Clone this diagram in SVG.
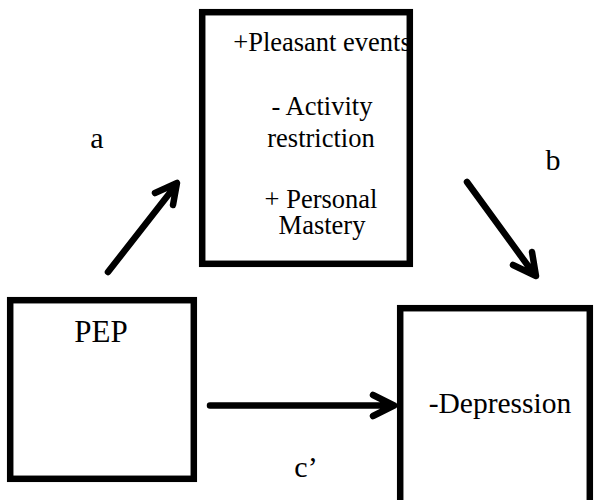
<svg xmlns="http://www.w3.org/2000/svg" width="598" height="500" viewBox="0 0 598 500">
<style>
.box{fill:#fff;stroke:#000;stroke-width:6.5}
text{font-family:"Liberation Serif","Times New Roman","DejaVu Serif",serif;fill:#000;text-anchor:middle}
.c{fill:none;stroke:#000;stroke-width:6.5;stroke-linecap:round;stroke-linejoin:round}
</style>
<rect width="598" height="500" fill="#fff"/>
<g id="mediators">
<rect class="box" x="202.2" y="12.2" width="207.6" height="251.6"/>
<text x="322" y="51" font-size="26.5">+Pleasant events</text>
<text x="322" y="115" font-size="26.5">- Activity</text>
<text x="321" y="147" font-size="26.5">restriction</text>
<text x="321" y="208" font-size="26.5">+ Personal</text>
<text x="322" y="234" font-size="26.5">Mastery</text>
</g>
<g id="pep">
<rect class="box" x="10.2" y="300.2" width="183.6" height="178.6"/>
<text x="101" y="342" font-size="31">PEP</text>
</g>
<g id="depression">
<rect class="box" x="400.2" y="308.2" width="189.6" height="200"/>
<text x="500" y="413" font-size="29.5">-Depression</text>
</g>
<g id="connectors">
<path class="c" d="M108 272 L176 185 M155 193 L177 183 L173 205"/>
<path class="c" d="M467 182 L534 274 M532 252 L536 276 L513 265"/>
<path class="c" d="M210 405.5 L394 405.5 M373 395 L394 405.5 L373 416"/>
</g>
<g id="labels">
<text x="97" y="148" font-size="30">a</text>
<text x="553" y="170" font-size="30">b</text>
<text x="306" y="477" font-size="30">c’</text>
</g>
</svg>
